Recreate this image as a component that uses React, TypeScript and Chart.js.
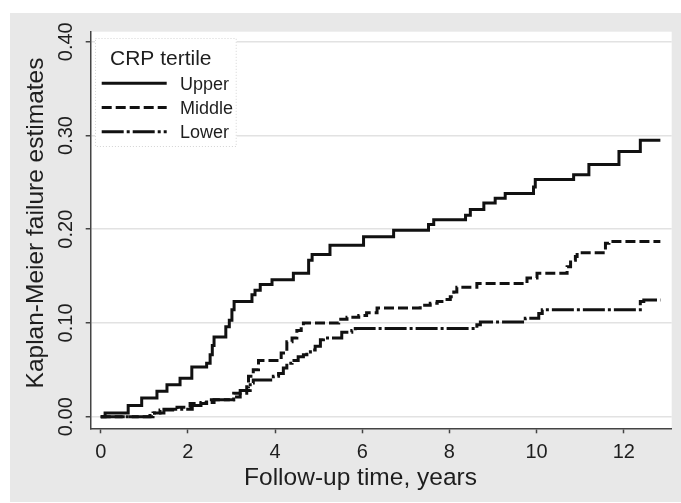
import React, { useEffect, useRef } from "react";
import { Chart, registerables } from "chart.js";

Chart.register(...registerables);

// ---- Data ----
const seriesLabels = ["Upper", "Middle", "Lower"];
const legendTitle = "CRP tertile";
const xAxisTitle = "Follow-up time, years";
const yAxisTitle = "Kaplan-Meier failure estimates";

const xTickValues = [0, 2, 4, 6, 8, 10, 12];
const yTickValues = [0, 0.1, 0.2, 0.3, 0.4];

const upperTimes = [0, 0.1, 0.63, 0.94, 1.29, 1.52, 1.82, 2.09, 2.43, 2.51, 2.56, 2.6, 2.87, 2.95, 3.01, 3.06, 3.47, 3.54, 3.66, 3.93, 4.42, 4.77, 4.85, 5.26, 6.03, 6.72, 7.52, 7.64, 8.37, 8.48, 8.79, 9.05, 9.28, 9.93, 9.97, 10.85, 11.2, 11.89, 12.38, 12.84];
const upperRisk = [0, 0.004, 0.012, 0.02, 0.027, 0.034, 0.041, 0.053, 0.057, 0.066, 0.076, 0.085, 0.096, 0.103, 0.114, 0.123, 0.13, 0.135, 0.141, 0.146, 0.153, 0.167, 0.173, 0.183, 0.192, 0.199, 0.205, 0.21, 0.215, 0.221, 0.228, 0.233, 0.238, 0.245, 0.253, 0.258, 0.269, 0.283, 0.295, 0.295];

const middleTimes = [0, 1.13, 1.36, 1.75, 2.05, 2.43, 3.05, 3.2, 3.35, 3.39, 3.5, 3.62, 4.14, 4.27, 4.39, 4.5, 4.6, 4.65, 5.46, 5.65, 5.92, 6.1, 6.34, 7.33, 7.56, 7.72, 7.87, 8.02, 8.1, 8.17, 8.63, 9.78, 10.01, 10.7, 10.78, 10.89, 10.93, 11.58, 11.66, 12.84];
const middleRisk = [0, 0.004, 0.007, 0.01, 0.014, 0.018, 0.021, 0.025, 0.032, 0.043, 0.05, 0.06, 0.068, 0.08, 0.084, 0.092, 0.096, 0.1, 0.104, 0.106, 0.108, 0.111, 0.116, 0.119, 0.121, 0.123, 0.125, 0.128, 0.133, 0.138, 0.142, 0.148, 0.153, 0.16, 0.167, 0.171, 0.175, 0.185, 0.187, 0.187];

const lowerTimes = [0, 1.2, 1.45, 2.1, 2.3, 2.6, 3.05, 3.2, 3.43, 3.5, 3.96, 4.08, 4.19, 4.27, 4.39, 4.53, 4.65, 4.73, 4.81, 4.92, 5.04, 5.11, 5.53, 5.76, 5.84, 8.63, 8.71, 9.74, 10.05, 10.13, 12.38, 12.46, 12.84];
const lowerRisk = [0, 0.004, 0.008, 0.012, 0.015, 0.018, 0.025, 0.028, 0.036, 0.039, 0.043, 0.046, 0.052, 0.057, 0.06, 0.064, 0.066, 0.069, 0.071, 0.075, 0.082, 0.084, 0.09, 0.092, 0.094, 0.098, 0.101, 0.105, 0.11, 0.114, 0.123, 0.1245, 0.1245];

// ---- styles ----
const FONT = "'Liberation Sans', Arial, Helvetica, sans-serif";
const INK = "#1e1e1e";
const AXIS = "#444444";
const dashes = [[], [10, 4], [22, 3, 3, 3]];

function toPoints(t: number[], v: number[]) {
  return t.map((x, i) => ({ x, y: v[i] }));
}

const backgroundPlugin = {
  id: "stataBackground",
  beforeDraw(chart: any) {
    const { ctx, width, height, chartArea } = chart;
    ctx.save();
    ctx.fillStyle = "#ffffff";
    ctx.fillRect(0, 0, width, height);
    ctx.fillStyle = "#e8e8e8";
    ctx.fillRect(10, 13, width - 10, height - 14);
    ctx.fillStyle = "#ffffff";
    ctx.fillRect(chartArea.left, chartArea.top, chartArea.right - chartArea.left, chartArea.bottom - chartArea.top);
    ctx.restore();
  },
};

const axisTitlePlugin = {
  id: "stataAxisTitles",
  afterDraw(chart: any) {
    const { ctx } = chart;
    ctx.save();
    ctx.fillStyle = INK;
    ctx.font = `24.5px ${FONT}`;
    ctx.textAlign = "center";
    ctx.textBaseline = "middle";
    ctx.fillText(xAxisTitle, 360.5, 478.5);
    ctx.translate(36.5, 223);
    ctx.rotate(-Math.PI / 2);
    ctx.fillText(yAxisTitle, 0, 0);
    ctx.restore();
  },
};

const legendPlugin = {
  id: "stataLegend",
  afterDraw(chart: any) {
    const { ctx, chartArea } = chart;
    const bx = chartArea.left + 4.3;
    const by = chartArea.top + 6.3;
    const bw = 141.7;
    const bh = 109;
    ctx.save();
    ctx.fillStyle = "#ffffff";
    ctx.fillRect(bx, by, bw, bh);
    ctx.strokeStyle = "#d4d4d4";
    ctx.lineWidth = 1;
    ctx.setLineDash([1, 2]);
    ctx.strokeRect(bx + 0.5, by + 0.5, bw - 1, bh - 1);
    ctx.setLineDash([]);
    ctx.fillStyle = INK;
    ctx.textBaseline = "middle";
    ctx.textAlign = "left";
    ctx.font = `21px ${FONT}`;
    ctx.fillText(legendTitle, bx + 15, by + 21);
    ctx.font = `18px ${FONT}`;
    const ds = chart.data.datasets;
    for (let i = 0; i < ds.length; i++) {
      const y = by + 45.3 + i * 24.2;
      ctx.strokeStyle = ds[i].borderColor;
      ctx.lineWidth = ds[i].borderWidth;
      ctx.setLineDash(ds[i].borderDash || []);
      ctx.beginPath();
      ctx.moveTo(bx + 6.7, y);
      ctx.lineTo(bx + 71.7, y);
      ctx.stroke();
      ctx.setLineDash([]);
      ctx.fillText(ds[i].label, bx + 85, y + 1.5);
    }
    ctx.restore();
  },
};

export default function App() {
  const ref = useRef<HTMLCanvasElement | null>(null);

  useEffect(() => {
    document.body.style.margin = "0";
    const canvas = ref.current;
    if (!canvas) return;
    Chart.defaults.font.family = FONT;
    const series = [
      toPoints(upperTimes, upperRisk),
      toPoints(middleTimes, middleRisk),
      toPoints(lowerTimes, lowerRisk),
    ];
    const chart = new Chart(canvas, {
      type: "line",
      data: {
        datasets: series.map((data, i) => ({
          label: seriesLabels[i],
          data,
          borderColor: "#111111",
          borderWidth: 3,
          borderDash: dashes[i],
          borderCapStyle: "butt",
          stepped: true,
          pointRadius: 0,
          fill: false,
        })),
      },
      options: {
        animation: false,
        responsive: false,
        events: [],
        layout: { padding: { left: 0, right: 9.3, top: 31.7, bottom: 0 } },
        plugins: {
          legend: { display: false },
          tooltip: { enabled: false },
        },
        scales: {
          x: {
            type: "linear",
            min: -0.23,
            max: 13.1,
            afterBuildTicks: (s: any) => {
              s.ticks = xTickValues.map((value) => ({ value }));
            },
            afterFit: (s: any) => {
              s.height = 74.7;
            },
            grid: { drawOnChartArea: false, drawTicks: true, tickLength: 5, tickColor: AXIS, tickWidth: 1.5 },
            border: { display: true, color: AXIS, width: 1.5 },
            ticks: {
              font: { size: 20 },
              color: INK,
              padding: 7,
              autoSkip: false,
              maxRotation: 0,
              callback: (v: any) => String(v),
            },
            title: { display: false, text: xAxisTitle },
          },
          y: {
            type: "linear",
            min: -0.0124,
            max: 0.4107,
            afterBuildTicks: (s: any) => {
              s.ticks = yTickValues.map((value) => ({ value }));
            },
            afterFit: (s: any) => {
              s.width = 90.7;
            },
            grid: { color: "#e2e2e2", lineWidth: 1.5, drawTicks: true, tickLength: 5, tickColor: AXIS, tickWidth: 1.5 },
            border: { display: true, color: AXIS, width: 1.5 },
            ticks: {
              font: { size: 20 },
              color: INK,
              padding: 0,
              autoSkip: false,
              minRotation: 90,
              maxRotation: 90,
              crossAlign: "center",
              callback: (v: any) => Number(v).toFixed(2),
            },
            title: { display: false, text: yAxisTitle },
          },
        },
      } as any,
      plugins: [backgroundPlugin, axisTitlePlugin, legendPlugin],
    });
    return () => chart.destroy();
  }, []);

  return <canvas ref={ref} width={681} height={503} style={{ display: "block" }} />;
}
